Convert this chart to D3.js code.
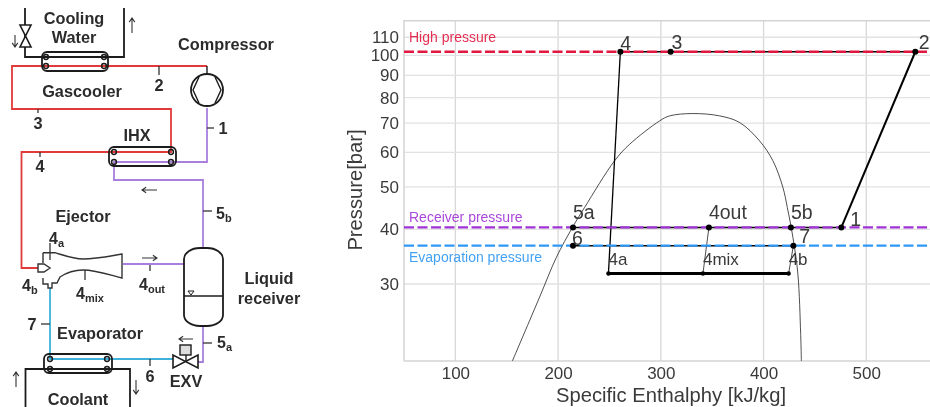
<!DOCTYPE html>
<html>
<head>
<meta charset="utf-8">
<script src="https://cdn.jsdelivr.net/npm/d3@7/dist/d3.min.js"></script>
<style>
html,body{margin:0;padding:0;background:#fff;overflow:hidden}
svg{display:block;filter:blur(0.4px)}
text{font-family:"Liberation Sans",Arial,sans-serif}
</style>
</head>
<body>
<svg id="c" width="930" height="407"></svg>
<script>
// ---------- chart data ----------
const xTicks = [100, 200, 300, 400, 500];
const yTicks = [30, 40, 50, 60, 70, 80, 90, 100, 110];
const stateNames = ["1", "2", "3", "4", "4a", "4mix", "4b", "4out", "5a", "5b", "6", "7"];
const stateEnthalpy = [475.7, 547.7, 309.5, 260.6, 249, 341, 424.4, 346.8, 214.5, 426.6, 214.5, 429];
const statePressure = [40.4, 101.9, 101.9, 101.9, 31.7, 31.7, 31.7, 40.4, 40.4, 40.4, 36.7, 36.7];
const domeEnthalpy = [155.5, 182, 198.3, 214.2, 225.8, 255, 269.6, 298.8, 308.6, 331.2, 357.2, 376.7, 396.2, 409.1, 418.8, 423.1, 428.6, 433.4, 436.1, 436.8];
const domePressure = [20, 28, 34.5, 40.5, 44.9, 57.4, 62.6, 70.8, 72.7, 73.6, 72.7, 70.2, 63.7, 57.4, 49.9, 44.9, 38.3, 31.6, 23.1, 20];
const levelNames = ["High pressure", "Receiver pressure", "Evaporation pressure"];
const levelPressure = [101.9, 40.4, 36.7];
const levelColors = ["#e2173f", "#a033d6", "#2f97f5"];
const cyclePaths = [
  [["4", "4a"], 1.3], [["4a", "4mix", "4b"], 2.8], [["4mix", "4out"], 0.7], [["4b", "7"], 0.7],
  [["1", "2"], 2], [["2", "3", "4"], 1.5], [["5a", "4out", "5b", "1"], 1.5], [["6", "7"], 1.5]
];

// ---------- chart layout ----------
const svg = d3.select("#c");
const ink = "#3a3a3a";
const x = d3.scaleLinear().domain([50, 562]).range([404, 930]);
const y = d3.scaleLog().domain([20, 120]).range([361, 20.7]);
const pt = n => { const i = stateNames.indexOf(n); return [x(stateEnthalpy[i]), y(statePressure[i])]; };
const labelOffset = {"1":[9,-1],"2":[3.5,-3],"3":[1,-3],"4":[0,-2],"4a":[0,-9],"4mix":[0,-9],"4b":[0,-9],"4out":[0,-8],"5a":[0,-8],"5b":[0,-8],"6":[-1,-1],"7":[6,-3]};
const labelY = {"High pressure":41.7,"Receiver pressure":221.7,"Evaporation pressure":261.7};
const small = new Set(["4a","4mix","4b"]);

const g = svg.append("g");
g.selectAll(".gx").data(xTicks).join("line")
  .attr("x1", x).attr("x2", x).attr("y1", 20.7).attr("y2", 361)
  .attr("stroke", "#d8d8d8").attr("stroke-width", 1.3);
g.selectAll(".gy").data(yTicks).join("line")
  .attr("x1", 404).attr("x2", 930).attr("y1", y).attr("y2", y)
  .attr("stroke", "#e2e2e2").attr("stroke-width", 1.3);
g.append("path").attr("d", "M404,361V20.7H930M404,361H930").attr("fill", "none").attr("stroke", "#d4d4d4").attr("stroke-width", 1.5);

const axX = g.append("g").attr("transform", "translate(0,361)")
  .call(d3.axisBottom(x).tickValues(xTicks).tickSize(0).tickPadding(6).tickFormat(d3.format("d")));
const axY = g.append("g").attr("transform", "translate(404,0)")
  .call(d3.axisLeft(y).tickValues(yTicks).tickSize(0).tickPadding(5).tickFormat(d3.format("d")));
[axX, axY].forEach(a => {
  a.select(".domain").remove();
  a.selectAll("text").attr("font-size", 17).attr("font-family", "Liberation Sans").attr("fill", ink);
});
g.append("text").attr("x", 671).attr("y", 402).attr("text-anchor", "middle").attr("font-size", 20.2).attr("fill", ink).text("Specific Enthalphy [kJ/kg]");
g.append("text").attr("transform", "translate(362,190) rotate(-90)").attr("text-anchor", "middle").attr("font-size", 20.2).attr("fill", ink).text("Pressure[bar]");

// saturation dome
const domeLine = d3.line().x(d => x(d[0])).y(d => y(d[1])).curve(d3.curveCatmullRom);
g.append("path").attr("d", domeLine(d3.zip(domeEnthalpy, domePressure)))
  .attr("fill", "none").attr("stroke", "#222").attr("stroke-width", 0.8);

// cycle
const line = d3.line();
cyclePaths.forEach(([names, w]) => {
  g.append("path").attr("d", line(names.map(pt))).attr("fill", "none").attr("stroke", "#000").attr("stroke-width", w);
});
// pressure levels
levelNames.forEach((name, i) => {
  g.append("line").attr("x1", 404).attr("x2", 930).attr("y1", y(levelPressure[i])).attr("y2", y(levelPressure[i]))
    .attr("stroke", levelColors[i]).attr("stroke-width", 2.3).attr("stroke-dasharray", "10,3.5");
  g.append("text").attr("x", 409).attr("y", labelY[name]).attr("font-size", 14).attr("fill", levelColors[i]).attr("fill-opacity", .9).text(name);
});
// state points
stateNames.forEach(n => {
  const [px, py] = pt(n);
  g.append("circle").attr("cx", px).attr("cy", py).attr("r", small.has(n) ? 2.2 : 3).attr("fill", "#000");
  const o = labelOffset[n];
  g.append("text").attr("x", px + o[0]).attr("y", py + o[1]).attr("font-size", small.has(n) ? 17 : 19.5).attr("fill", ink).text(n);
});

// ---------- schematic (left panel) ----------
const s = svg.append("g").attr("id", "schematic");
const pipe = (pts, col, w) => s.append("path").attr("d", d3.line()(pts)).attr("fill", "none").attr("stroke", col).attr("stroke-width", w || 1.8).attr("stroke-linejoin", "miter");
const RED = "#e23a3a", PUR = "#a87fdc", BLU = "#3fb2dc", BLK = "#1c1c1c";
// pipes
pipe([[25,8],[25,57],[124,57],[124,8]], BLK);
pipe([[207,66],[12,66],[12,109],[171,109],[171,152],[21.5,152],[21.5,268],[38,268]], RED);
pipe([[207,108],[207,162],[114,162],[114,180],[203,180],[203,247]], PUR);
pipe([[123,264],[184,264]], PUR);
pipe([[203,326],[203,362],[198,362]], PUR);
pipe([[173,359],[50,359],[50,288]], BLU);
pipe([[25.5,407],[25.5,369],[130,369],[130,407]], BLK);
// heat exchangers
const hx = (x0, x1, y0, y1, cx0, cx1, cy0, cy1) => {
  s.append("rect").attr("x", x0).attr("y", y0).attr("width", x1 - x0).attr("height", y1 - y0).attr("rx", 5).attr("fill", "none").attr("stroke", BLK).attr("stroke-width", 1.8);
  [[cx0,cy0],[cx1,cy0],[cx0,cy1],[cx1,cy1]].forEach(c => s.append("circle").attr("cx", c[0]).attr("cy", c[1]).attr("r", 2.4).attr("fill", "none").attr("stroke", BLK).attr("stroke-width", 1.5));
};
hx(42,108,52,71,46,104,57,66);
hx(109,176,147,166,114,171,152,162);
hx(44,112,354,373,50,107,359,369);
// valve on water line
s.append("path").attr("d", "M20,25H31L20,47H31Z").attr("fill", "#fff").attr("stroke", BLK).attr("stroke-width", 1.6);
// compressor
s.append("circle").attr("cx", 207).attr("cy", 90).attr("r", 16).attr("fill", "#fff").attr("stroke", BLK).attr("stroke-width", 1.8);
pipe([[199,77],[193,90],[199,103]], BLK, 1.4);
pipe([[215,77],[221,90],[215,103]], BLK, 1.4);
pipe([[207,66],[207,74]], BLK, 1.4);
// receiver
s.append("rect").attr("x", 184).attr("y", 248).attr("width", 39).attr("height", 78).attr("rx", 16).attr("ry", 11).attr("fill", "#fff").attr("stroke", BLK).attr("stroke-width", 1.8);
pipe([[184,296],[223,296]], BLK, 1.4);
s.append("path").attr("d", "M188,291H194L191,295Z").attr("fill", "none").attr("stroke", BLK).attr("stroke-width", 1);
// expansion valve
s.append("path").attr("d", "M173,355V368L198,355V368Z").attr("fill", "#fff").attr("stroke", BLK).attr("stroke-width", 1.6);
s.append("rect").attr("x", 180).attr("y", 345).attr("width", 11).attr("height", 10).attr("fill", "#ddd").attr("stroke", BLK).attr("stroke-width", 1.4);
pipe([[186,355],[186,361]], BLK, 1.4);
// ejector
s.append("path").attr("d", "M43,252.7H55C66,256 74,259 83,259C96,259 110,256 122,254V278C110,275 96,270 83,270C74,270 66,273 60,277L57,283H52V288H48V284H43V278").attr("fill", "none").attr("stroke", "#333").attr("stroke-width", 1.4);
pipe([[43,252.7],[43,263]], "#333", 1.4);
s.append("path").attr("d", "M38,264H44L50,268L44,272H38Z").attr("fill", "#fff").attr("stroke", "#333").attr("stroke-width", 1.4);
// tick marks
[[[159,66],[159,75]],[[38,109],[38,113]],[[40,152],[40,157]],[[207,128],[214,128]],[[85,270],[85,280]],[[50,324],[41,324]],[[150,265],[150,271]],[[203,211],[212,211]],[[203,343],[212,343]],[[150,359],[150,366]],[[50,243],[50,260]]].forEach(t => pipe(t, "#333", 1.3));
// flow arrows
const arrow = (x0, y0, x1, y1) => {
  const a = Math.atan2(y1 - y0, x1 - x0), h = 5;
  s.append("path").attr("d", `M${x0},${y0}L${x1},${y1}M${x1 - h*Math.cos(a-.6)},${y1 - h*Math.sin(a-.6)}L${x1},${y1}L${x1 - h*Math.cos(a+.6)},${y1 - h*Math.sin(a+.6)}`).attr("fill", "none").attr("stroke", "#333").attr("stroke-width", 1.1);
};
arrow(132,33,132,18); arrow(15,35,15,47); arrow(157,190,142,190); arrow(142,258,157,258);
arrow(193,339,179,339); arrow(16,387,16,372); arrow(136,380,136,394);
// labels
const schemLabels = [["Cooling",74,24],["Water",74,43],["Compressor",226,50],["Gascooler",82,97],["IHX",137,141],
  ["2",159,91],["3",38,129],["4",40,172],["1",223,134],["Ejector",83,222],["7",32,330],["Evaporator",100,339],
  ["6",150,382],["EXV",186,387],["Liquid",269,284],["receiver",269,304],["Coolant",78,405]];
schemLabels.forEach(l => s.append("text").attr("x", l[1]).attr("y", l[2]).attr("font-size", 16.3).attr("font-weight", "bold").attr("text-anchor", "middle").attr("fill", "#2b2b2b").text(l[0]));
const subLabels = [["4","a",49,244],["4","b",22,291],["4","mix",76,299],["4","out",139,290],["5","b",216,219],["5","a",217,348]];
subLabels.forEach(l => {
  const t = s.append("text").attr("x", l[2]).attr("y", l[3]).attr("font-size", 16).attr("font-weight", "bold").attr("fill", "#2b2b2b");
  t.append("tspan").text(l[0]);
  t.append("tspan").attr("font-size", 11).attr("dy", 3).text(l[1]);
});
</script>
</body>
</html>
